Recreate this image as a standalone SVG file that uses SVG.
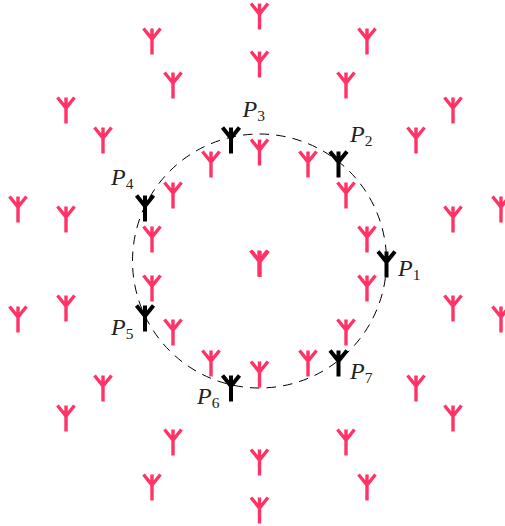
<svg xmlns="http://www.w3.org/2000/svg" xmlns:xlink="http://www.w3.org/1999/xlink" width="505" height="526" viewBox="0 0 505 526">
<style>
.p{fill:none;stroke:#ff3366;stroke-width:3.4}
.k{fill:none;stroke:#000;stroke-width:4}
.l{font-family:"Liberation Serif",serif;font-style:italic;font-size:24px;fill:#222}
.s{font-family:"Liberation Serif",serif;font-size:15.5px;font-style:normal}
</style>
<defs>
<g id="a"><path d="M0 0.500V26.500M-8.500 0.500L0 11L8.500 0.500"/></g>
</defs>
<rect width="505" height="526" fill="#fff"/>
<g id="connectors"><circle cx="259.5" cy="261" r="127" fill="none" stroke="#000" stroke-width="1" stroke-dasharray="9.5 7.12"/></g>
<g id="pink" class="p">
<use xlink:href="#a" x="259.5" y="3"/><use xlink:href="#a" x="259.5" y="51"/>
<use xlink:href="#a" x="152" y="28"/><use xlink:href="#a" x="367" y="28"/>
<use xlink:href="#a" x="173" y="72"/><use xlink:href="#a" x="346" y="72"/>
<use xlink:href="#a" x="66" y="97"/><use xlink:href="#a" x="453" y="97"/>
<use xlink:href="#a" x="103" y="127"/><use xlink:href="#a" x="416" y="127"/>
<use xlink:href="#a" x="259.5" y="139"/>
<use xlink:href="#a" x="211" y="151"/><use xlink:href="#a" x="308" y="151"/>
<use xlink:href="#a" x="173" y="182"/><use xlink:href="#a" x="346" y="182"/>
<use xlink:href="#a" x="18" y="196"/><use xlink:href="#a" x="501" y="196"/>
<use xlink:href="#a" x="66" y="206"/><use xlink:href="#a" x="453" y="206"/>
<use xlink:href="#a" x="152" y="226"/><use xlink:href="#a" x="367" y="226"/>
<use xlink:href="#a" x="259" y="250"/><use xlink:href="#a" x="260" y="250.5"/>
<use xlink:href="#a" x="152" y="275"/><use xlink:href="#a" x="367" y="275"/>
<use xlink:href="#a" x="66" y="295"/><use xlink:href="#a" x="453" y="295"/>
<use xlink:href="#a" x="18" y="306"/><use xlink:href="#a" x="501" y="306"/>
<use xlink:href="#a" x="173" y="319"/><use xlink:href="#a" x="346" y="319"/>
<use xlink:href="#a" x="211" y="350"/><use xlink:href="#a" x="308" y="350"/>
<use xlink:href="#a" x="259.5" y="361"/>
<use xlink:href="#a" x="103" y="375"/><use xlink:href="#a" x="416" y="375"/>
<use xlink:href="#a" x="66" y="405"/><use xlink:href="#a" x="453" y="405"/>
<use xlink:href="#a" x="173" y="429"/><use xlink:href="#a" x="346" y="429"/>
<use xlink:href="#a" x="259.5" y="449"/>
<use xlink:href="#a" x="152" y="474"/><use xlink:href="#a" x="367" y="474"/>
<use xlink:href="#a" x="259.5" y="497"/>
</g>
<g id="P1"><use xlink:href="#a" class="k" x="386.5" y="251"/><text class="l" x="398" y="276">P<tspan class="s" dy="4">1</tspan></text></g>
<g id="P2"><use xlink:href="#a" class="k" x="338.5" y="151"/><text class="l" x="350" y="141.500">P<tspan class="s" dy="4">2</tspan></text></g>
<g id="P3"><use xlink:href="#a" class="k" x="231" y="127"/><text class="l" x="242.500" y="116.500">P<tspan class="s" dy="4">3</tspan></text></g>
<g id="P4"><use xlink:href="#a" class="k" x="145" y="195"/><text class="l" x="111" y="185">P<tspan class="s" dy="4">4</tspan></text></g>
<g id="P5"><use xlink:href="#a" class="k" x="145" y="305"/><text class="l" x="111" y="335">P<tspan class="s" dy="4">5</tspan></text></g>
<g id="P6"><use xlink:href="#a" class="k" x="231" y="375"/><text class="l" x="197" y="403.500">P<tspan class="s" dy="4">6</tspan></text></g>
<g id="P7"><use xlink:href="#a" class="k" x="338.5" y="350"/><text class="l" x="350" y="379">P<tspan class="s" dy="4">7</tspan></text></g>
</svg>
